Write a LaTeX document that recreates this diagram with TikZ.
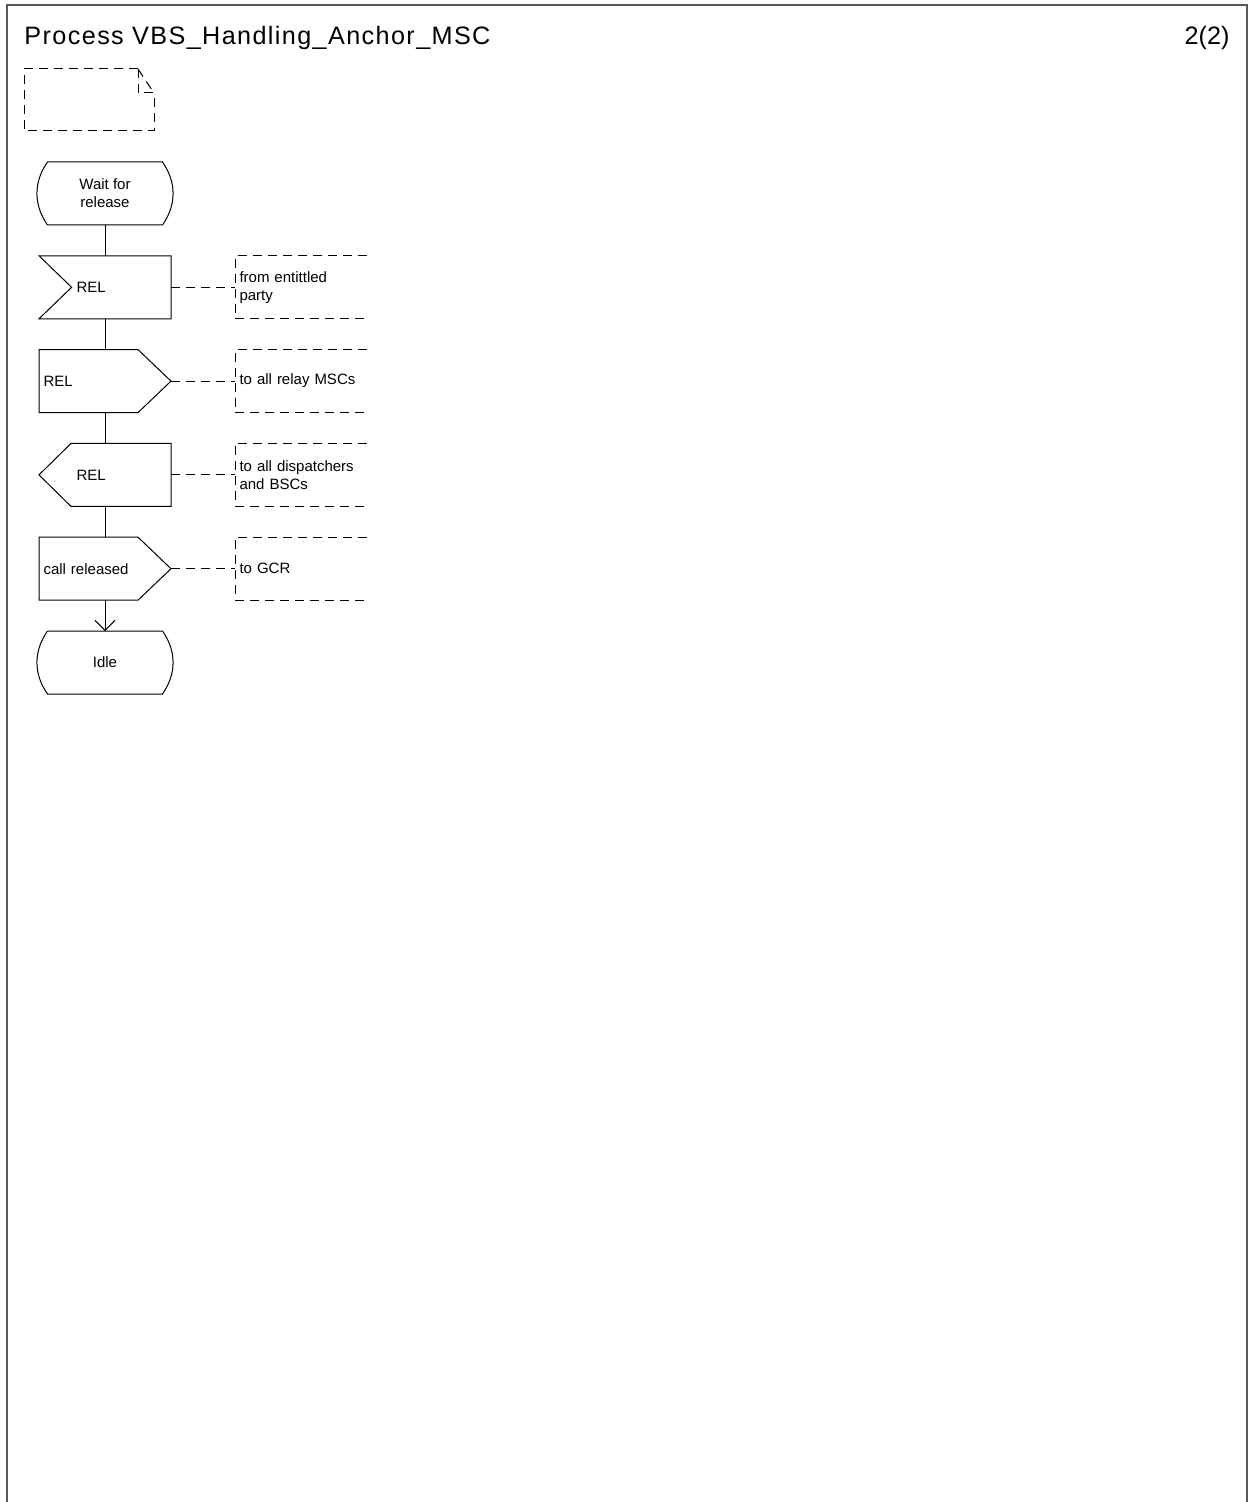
\documentclass[tikz,border=0pt]{standalone}
\usepackage{fontspec}
\setmainfont{Liberation Sans}
\usetikzlibrary{arrows.meta,positioning}

\begin{document}
\begin{tikzpicture}[x=0.5pt,y=-0.5pt, node distance=15.4pt and 32pt, line width=0.5pt,
  lbl/.style={font=\fontsize{7.5}{9}\selectfont},
  shapebox/.style={lbl,minimum width=65.5pt,minimum height=31pt,inner ysep=0pt},
  statebox/.style={shapebox,minimum width=66pt,inner xsep=0pt,align=center},
  inbox/.style={shapebox,inner xsep=18.5pt,text width=28.5pt,align=left},
  outbox/.style={shapebox,inner xsep=2pt,text width=61.5pt,align=left},
  cmtbox/.style={shapebox,inner xsep=2pt,text width=61.5pt,align=left},
  cmtline/.style={dash pattern=on 4.5pt off 3pt}, >=Straight Barb]
\useasboundingbox (0,0) rectangle (1249,1502);
% page frame
\draw[black!65,line width=1pt] (7,1502) -- (7,5) -- (1247,5) -- (1247,1502);
\node[anchor=base west,inner sep=0pt,font=\fontsize{12.6}{15}\selectfont\addfontfeature{LetterSpace=5.5}] (title) at (24,45) {Process VBS\_Handling\_Anchor\_MSC};
\node[anchor=base east,inner sep=0pt,font=\fontsize{12.6}{15}\selectfont] (page) at (1230,45) {2(2)};
% text symbol
\draw[cmtline] (138,69) -- (24,69) -- (24,131) -- (154,131) -- (154,93) -- (138,93) -- cycle;
\draw[cmtline] (138,69) -- (154,93);
% nodes
\node[statebox] (wait) at (105,193.5) {Wait for\\release};
\node[inbox,below=of wait] (rel1) {REL};
\node[outbox,below=of rel1] (rel2) {REL};
\node[inbox,below=of rel2] (rel3) {REL};
\node[outbox,below=of rel3] (called) {call released};
\node[statebox,below=of called] (idle) {Idle};
\node[cmtbox,right=of rel1] (c1) {from entittled\\party};
\node[cmtbox,right=of rel2] (c2) {to all relay MSCs};
\node[cmtbox,right=of rel3] (c3) {to all dispatchers\\and BSCs};
\node[cmtbox,right=of called] (c4) {to GCR};
% outlines
\foreach \n in {wait,idle}
  \draw ([xshift=4.5pt]\n.north west) -- ([xshift=-4.5pt]\n.north east) to[bend left=35] ([xshift=-4.5pt]\n.south east) -- ([xshift=4.5pt]\n.south west) to[bend left=35] ([xshift=4.5pt]\n.north west);
\draw (rel1.north west) -- (rel1.north east) -- (rel1.south east) -- (rel1.south west) -- ([xshift=16.3pt]rel1.west) -- cycle;
\foreach \n in {rel2,called}
  \draw (\n.north west) -- ([xshift=-16.5pt]\n.north east) -- (\n.east) -- ([xshift=-16.5pt]\n.south east) -- (\n.south west) -- cycle;
\draw (rel3.west) -- ([xshift=16pt]rel3.north west) -- (rel3.north east) -- (rel3.south east) -- ([xshift=16pt]rel3.south west) -- cycle;
% connectors
\draw (wait) -- (rel1);
\draw (rel1) -- (rel2);
\draw (rel2) -- (rel3);
\draw (rel3) -- (called);
\draw[-{Straight Barb[length=5pt,width=10pt]}] (called) -- (idle);
% comments
\foreach \s/\c in {rel1/c1,rel2/c2,rel3/c3,called/c4} {
  \draw[cmtline] (\s.east) -- (\c.west);
  \draw[cmtline] (\c.north east) -- (\c.north west) -- (\c.south west) -- (\c.south east);
}
\end{tikzpicture}
\end{document}
